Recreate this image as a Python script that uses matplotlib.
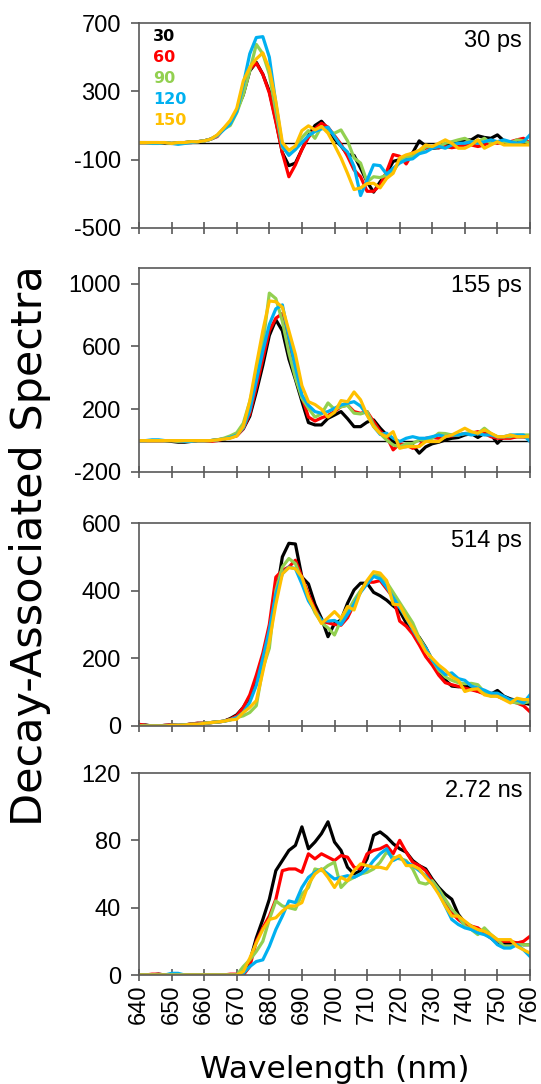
import numpy as np
import matplotlib
matplotlib.use("Agg")
import matplotlib.pyplot as plt

plt.rcParams['axes.unicode_minus'] = False

# wavelength grid (nm)
wavelength = list(range(640, 762, 2))

# 30 ps component
das30_30 = [0, 0, 0, 0, -5, -5, 0, 0, 5, 5, 10, 20, 40, 80, 110,
            190, 280, 420, 470, 400, 300, 130, -60, -135, -120, -40, 40, 100, 125, 80, 20, -20, -70, -75, -150, -230, -290, -230,
            -180, -110, -100, -85, -60, 10, -20, -33, -30, -20, -5, 5, 16, 16, 40, 30, 25, 45, 10, 0, 10, 5, -4]
das30_60 = [0, 0, 0, 0, 0, -5, -5, 0, 0, 5, 10, 20, 35, 80, 110,
            190, 290, 430, 465, 400, 290, 120, -60, -200, -130, -40, 30, 80, 113, 90, 40, -10, -80, -160, -200, -285, -285, -250,
            -170, -70, -80, -125, -60, -50, -33, -23, -30, -23, -30, -23, -14, -14, -23, -14, 5, -4, 5, 5, 16, 25, -4]
das30_90 = [0, 0, 0, 0, 0, -5, 0, 0, 5, 5, 10, 20, 40, 80, 100,
            175, 280, 420, 575, 520, 400, 180, -30, -70, -40, 30, 70, 25, 94, 64, 55, 74, 10, -90, -120, -230, -200, -205,
            -190, -170, -110, -82, -82, -60, -25, -23, -23, -4, 5, 16, 25, 5, 5, 25, -4, 5, 5, -4, 16, 10, -4]
das30_120 = [0, 0, -5, -5, 0, -5, -10, -5, 0, 5, 10, 20, 40, 75, 110,
             180, 340, 520, 615, 620, 500, 230, -20, -75, -40, 0, 40, 65, 80, 90, 35, -20, -55, -140, -310, -220, -130, -135,
             -185, -150, -120, -101, -95, -65, -55, -33, -23, -33, -14, -4, -4, 5, -4, 5, 16, 5, 16, 5, -4, 5, 45]
das30_150 = [0, 0, 0, 0, 0, -5, 0, 0, 5, 5, 10, 20, 45, 85, 130,
             200, 360, 440, 490, 525, 430, 240, 0, -45, -20, 70, 98, 74, 94, 55, -15, -90, -180, -275, -265, -240, -238, -265,
             -210, -180, -90, -72, -62, -45, -14, -23, -4, 16, -4, -33, -33, -14, 16, -33, -14, 5, -14, -14, -14, -14, -14]

# 155 ps component
das155_30 = [0, 0, 0, 0, 0, -5, -10, -10, -5, 0, 0, 0, 5, 10, 20,
             35, 75, 155, 310, 480, 670, 770, 700, 520, 390, 250, 115, 100, 100, 142, 163, 185, 140, 89, 89, 118, 132, 80,
             36, -6, -38, -38, -30, -80, -40, -20, -10, 4, 15, 20, 36, 45, 20, 47, 40, -17, 25, 25, 25, 25, 25]
das155_60 = [0, 0, 0, 0, 0, 0, -5, -5, -5, 0, 0, -5, 0, 10, 20,
             30, 75, 170, 340, 520, 700, 780, 810, 620, 480, 280, 150, 125, 145, 160, 185, 217, 227, 185, 174, 185, 121, 60,
             25, -59, -20, -28, -49, -35, 15, 20, 15, 25, 30, 36, 45, 47, 57, 45, 25, 15, 15, 15, 25, 25, 15]
das155_90 = [0, 0, 0, 0, 0, 0, -5, 0, 0, 0, 0, 0, 5, 15, 30,
             50, 110, 250, 420, 610, 940, 905, 760, 560, 400, 270, 206, 150, 170, 240, 200, 215, 225, 175, 170, 185, 100, 45,
             4, -28, -38, -20, -18, 4, 4, 15, 47, 45, 36, 36, 45, 50, 45, 79, 45, 25, 25, 25, 36, 36, 36]
das155_120 = [0, 0, 5, 5, 0, 0, 0, -5, -5, 0, 0, 0, 5, 10, 20,
              35, 80, 190, 380, 570, 740, 840, 865, 660, 470, 290, 225, 185, 174, 185, 206, 227, 238, 248, 220, 165, 90, 40,
              47, 15, -6, 15, 25, 15, 15, 25, 36, 25, 36, 36, 45, 36, 45, 36, 36, 25, 25, 36, 36, 36, -6]
das155_150 = [0, 0, 0, 0, 0, 0, 0, 0, 0, 0, 0, 0, 5, 10, 15,
              30, 90, 250, 480, 700, 890, 885, 850, 700, 550, 350, 248, 230, 200, 150, 180, 255, 248, 310, 260, 163, 90, 45,
              25, 57, -49, -38, -38, -38, -6, -6, -6, 25, 36, 57, 79, 57, 47, 68, 47, 25, 25, 36, 25, 25, 25]

# 514 ps component
das514_30 = [2, 3, 0, 0, 2, 3, 2, 3, 6, 8, 8, 10, 12, 14, 22,
             33, 55, 85, 130, 190, 272, 380, 500, 540, 538, 440, 420, 360, 318, 264, 303, 313, 363, 402, 422, 422, 395, 385,
             372, 355, 340, 305, 285, 262, 232, 195, 165, 136, 118, 116, 120, 110, 103, 98, 94, 105, 88, 80, 75, 68, 64]
das514_60 = [5, 2, 0, 0, 2, 3, 2, 3, 6, 8, 8, 10, 12, 14, 20,
             30, 55, 92, 150, 215, 300, 440, 460, 470, 490, 440, 390, 345, 310, 305, 300, 298, 320, 360, 397, 425, 425, 430,
             405, 380, 310, 295, 272, 240, 205, 180, 150, 128, 122, 117, 112, 107, 102, 95, 97, 88, 80, 74, 68, 60, 42]
das514_90 = [0, 0, 0, 0, 0, 2, 2, 3, 5, 5, 8, 10, 12, 14, 18,
             25, 30, 40, 60, 170, 230, 400, 470, 495, 480, 430, 380, 335, 305, 290, 269, 313, 338, 372, 400, 426, 446, 445,
             425, 395, 365, 335, 305, 260, 230, 195, 165, 145, 135, 128, 125, 126, 122, 100, 88, 90, 82, 72, 68, 68, 72]
das514_120 = [0, 0, 0, 0, 0, 2, 2, 3, 5, 5, 8, 10, 12, 14, 18,
              25, 40, 70, 120, 200, 285, 390, 450, 470, 465, 420, 370, 340, 313, 310, 312, 300, 330, 360, 395, 420, 442, 435,
              410, 380, 350, 320, 285, 252, 230, 195, 170, 152, 157, 140, 135, 118, 112, 106, 97, 97, 87, 77, 77, 68, 92]
das514_150 = [0, 0, 0, 0, 0, 2, 2, 3, 5, 5, 8, 10, 12, 14, 18,
              20, 40, 55, 75, 160, 250, 360, 450, 468, 465, 440, 380, 340, 303, 320, 338, 318, 353, 343, 397, 430, 456, 452,
              430, 360, 358, 320, 290, 255, 220, 200, 180, 165, 145, 135, 102, 108, 110, 92, 88, 88, 78, 68, 82, 78, 78]

# 2.72 ns component
das272_30 = [0, 0, 0, 0.5, 0, 0, 0, 0, 0, 0, 0, 0, 0, 0, 0,
             0, 2, 8, 22, 33, 45, 62, 68, 74, 77, 88, 75, 79, 84, 91, 79, 74, 64, 60, 62, 69, 83, 85,
             82, 78, 75, 73, 68, 65, 63, 57, 52, 48, 45, 36, 31, 29, 27, 25, 22, 19, 19, 19, 19, 18, 18]
das272_60 = [0, 0, 0.5, 0.5, 0, 0, 0, 0, 0, 0, 0, 0, 0, 0, 0.5,
             0.5, 0, 5, 20, 28, 35, 45, 62, 63, 63, 61, 72, 69, 72, 70, 68, 71, 70, 64, 63, 72, 74, 75,
             77, 72, 80, 73, 67, 65, 62, 56, 50, 43, 37, 33, 30, 29, 28, 25, 22, 20, 20, 20, 19, 20, 23]
das272_90 = [0, 0, 0, 0, 0, 0, 0, 0, 0, 0, 0, 0, 0, 0, 0,
             0, 5, 9, 14, 20, 33, 44, 41, 40, 39, 48, 52, 63, 62, 65, 67, 52, 56, 58, 60, 61, 63, 67,
             73, 70, 69, 68, 63, 55, 54, 56, 51, 45, 39, 35, 29, 27, 24, 28, 24, 21, 17, 17, 18, 18, 18]
das272_120 = [0, 0, 0, 0, 0, 1, 1, 0, 0, 0, 0, 0, 0, 0, 0,
              0, 1, 5, 8, 9, 17, 27, 35, 44, 43, 52, 58, 61, 63, 60, 57, 58, 59, 58, 60, 63, 68, 72,
              75, 68, 70, 67, 65, 62, 59, 54, 49, 41, 33, 30, 28, 27, 25, 24, 22, 18, 16, 16, 18, 15, 11]
das272_150 = [0, 0, 0, 0, 0, 0, 0, 0, 0, 0, 0, 0, 0, 0, 0,
              0, 2, 10, 19, 27, 33, 34, 38, 41, 41, 43, 54, 60, 63, 58, 52, 58, 56, 62, 66, 65, 64, 64,
              63, 69, 71, 65, 65, 63, 58, 54, 48, 41, 35, 35, 32, 29, 27, 26, 24, 21, 21, 21, 17, 15, 13]

series_names = ["30", "60", "90", "120", "150"]
colors = ["#000000", "#FF0000", "#92D050", "#00B0F0", "#FFC000"]

panels = [
    ("30 ps", [das30_30, das30_60, das30_90, das30_120, das30_150], (-500, 700), [-500, -100, 300, 700]),
    ("155 ps", [das155_30, das155_60, das155_90, das155_120, das155_150], (-200, 1100), [-200, 200, 600, 1000]),
    ("514 ps", [das514_30, das514_60, das514_90, das514_120, das514_150], (0, 600), [0, 200, 400, 600]),
    ("2.72 ns", [das272_30, das272_60, das272_90, das272_120, das272_150], (0, 120), [0, 40, 80, 120]),
]

# axes boxes in pixels (top, bottom) of a 541x1084 figure
W, H = 541, 1084
boxes = [(23, 228), (268, 472), (523, 726), (773, 975)]
x0, x1 = 139, 530

fig = plt.figure(figsize=(W / 100, H / 100), dpi=100)
tickfont = "Liberation Sans"
spine_col = "#595959"

for i, (label, data, ylim, yticks) in enumerate(panels):
    top, bot = boxes[i]
    ax = fig.add_axes([x0 / W, 1 - bot / H, (x1 - x0) / W, (bot - top) / H])
    if ylim[0] < 0:
        ax.axhline(0, color="black", lw=1.0, zorder=1)
    for ys, c in zip(data, colors):
        ax.plot(wavelength, ys, color=c, lw=2.3, zorder=2)
    ax.set_xlim(640, 760)
    ax.set_ylim(*ylim)
    ax.set_yticks(yticks)
    ax.set_xticks(range(640, 761, 10))
    for s in ax.spines.values():
        s.set_color(spine_col)
        s.set_linewidth(1.2)
    ax.tick_params(axis="y", direction="out", length=6, width=1.2, color=spine_col, pad=7)
    ax.tick_params(axis="x", direction="inout", length=9, width=1.2, color=spine_col, pad=2)
    for t in ax.get_yticklabels():
        t.set_fontfamily(tickfont)
        t.set_fontsize(17)
    if i == 3:
        for t in ax.get_xticklabels():
            t.set_fontfamily(tickfont)
            t.set_fontsize(17)
            t.set_rotation(90)
    else:
        ax.set_xticklabels([])
    ax.text(0.98, 0.965, label, transform=ax.transAxes, ha="right", va="top",
            fontsize=17, family=tickfont)
    if i == 0:
        for k, (nm, c) in enumerate(zip(series_names, colors)):
            ax.text(0.036, 0.97 - k * 0.1024, nm, transform=ax.transAxes, ha="left", va="top",
                    fontsize=11.5, fontweight="bold", color=c, family="DejaVu Sans")

fig.text(0.056, 0.497, "Decay-Associated Spectra", rotation=90, ha="center", va="center",
         fontsize=31, family="DejaVu Sans")
fig.text((x0 + x1) / 2 / W, 0.0055, "Wavelength (nm)", ha="center", va="baseline",
         fontsize=22.5, family="DejaVu Sans")

fig.savefig("out.png", dpi=100)
